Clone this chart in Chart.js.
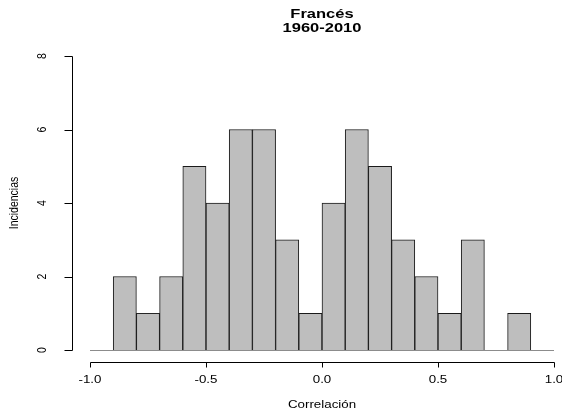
<!DOCTYPE html>
<html>
<head>
<meta charset="utf-8">
<script src="https://cdn.jsdelivr.net/npm/chart.js@4/dist/chart.umd.min.js"></script>
<style>
html,body{margin:0;padding:0;background:#fff;}
#c{display:block;}
</style>
</head>
<body>
<canvas id="c" width="562" height="416"></canvas>
<script>
// ---- data ----
const titleLines = ["Francés", "1960-2010"];
const xTitle = "Correlación";
const yTitle = "Incidencias";
const binWidth = 0.1;
const binStarts = [-0.9,-0.8,-0.7,-0.6,-0.5,-0.4,-0.3,-0.2,-0.1,0.0,0.1,0.2,0.3,0.4,0.5,0.6,0.7,0.8];
const counts    = [2,1,2,5,4,6,6,3,1,4,6,5,3,2,1,3,0,1];
const xTicks = [-1.0,-0.5,0.0,0.5,1.0];
const xTickLabels = ["-1.0","-0.5","0.0","0.5","1.0"];
const yTicks = [0,2,4,6,8];
const yTickLabels = ["0","2","4","6","8"];

const points = binStarts.map((s,i)=>({x: s + binWidth/2, y: counts[i]}));

const SX = 1.27; // horizontal stretch of the reference image text
const FONT = '"Liberation Sans", Arial, sans-serif';

function stretchedText(ctx, txt, x, y, font, rotate){
  ctx.save();
  ctx.font = font;
  ctx.fillStyle = '#000';
  ctx.textAlign = 'center';
  ctx.textBaseline = 'middle';
  ctx.translate(x, y);
  ctx.scale(SX, 1);
  if (rotate) ctx.rotate(-Math.PI/2);
  ctx.fillText(txt, 0, 0);
  ctx.restore();
}

const rAxes = {
  id: 'rAxes',
  afterDraw(chart){
    const ctx = chart.ctx;
    const xs = chart.scales.x, ys = chart.scales.y;
    const y0 = ys.getPixelForValue(0);
    ctx.save();
    // gray baseline
    ctx.strokeStyle = '#8c8c8c';
    ctx.lineWidth = 1;
    ctx.beginPath();
    ctx.moveTo(xs.getPixelForValue(xTicks[0]), Math.round(y0)+0.5);
    ctx.lineTo(xs.getPixelForValue(xTicks[xTicks.length-1]), Math.round(y0)+0.5);
    ctx.stroke();
    // x axis
    ctx.strokeStyle = '#000';
    const xAxisY = Math.round(y0) + 12.5;
    ctx.beginPath();
    ctx.moveTo(Math.round(xs.getPixelForValue(xTicks[0]))+0.5, xAxisY);
    ctx.lineTo(Math.round(xs.getPixelForValue(xTicks[xTicks.length-1]))+0.5, xAxisY);
    xTicks.forEach(v=>{
      const px = Math.round(xs.getPixelForValue(v))+0.5;
      ctx.moveTo(px, xAxisY); ctx.lineTo(px, xAxisY+5);
    });
    ctx.stroke();
    // y axis
    const yAxisX = 72.5;
    ctx.beginPath();
    ctx.moveTo(yAxisX, Math.round(ys.getPixelForValue(yTicks[0]))+0.5);
    ctx.lineTo(yAxisX, Math.round(ys.getPixelForValue(yTicks[yTicks.length-1]))+0.5);
    yTicks.forEach(v=>{
      const py = Math.round(ys.getPixelForValue(v))+0.5;
      ctx.moveTo(yAxisX, py); ctx.lineTo(yAxisX-8, py);
    });
    ctx.stroke();
    ctx.restore();
    // tick labels
    const tf = '10.5px ' + FONT;
    xTicks.forEach((v,i)=>stretchedText(ctx, xTickLabels[i], xs.getPixelForValue(v), 380, tf, false));
    yTicks.forEach((v,i)=>stretchedText(ctx, yTickLabels[i], 42, ys.getPixelForValue(v), tf, true));
    // axis titles
    stretchedText(ctx, xTitle, (xs.left+xs.right)/2, 405, '10.5px ' + FONT, false);
    stretchedText(ctx, yTitle, 14, (ys.top+ys.bottom)/2, '10.5px ' + FONT, true);
    // main title
    stretchedText(ctx, titleLines[0], (xs.left+xs.right)/2, 14, 'bold 13px ' + FONT, false);
    stretchedText(ctx, titleLines[1], (xs.left+xs.right)/2, 28, 'bold 13px ' + FONT, false);
  }
};

new Chart(document.getElementById('c'), {
  type: 'bar',
  data: {
    datasets: [{
      data: points,
      backgroundColor: '#bebebe',
      borderColor: '#1a1a1a',
      borderWidth: 1,
      borderSkipped: 'bottom',
      barPercentage: 1,
      categoryPercentage: 1
    }]
  },
  options: {
    responsive: false,
    animation: false,
    layout: { padding: { left: 90, right: 8, top: 56, bottom: 66 } },
    plugins: { legend: { display: false }, title: { display: false }, tooltip: { enabled: false } },
    scales: {
      x: { type: 'linear', min: -1, max: 1, offset: false, display: false },
      y: { min: 0, max: 8, display: false }
    }
  },
  plugins: [rAxes]
});
</script>
</body>
</html>
